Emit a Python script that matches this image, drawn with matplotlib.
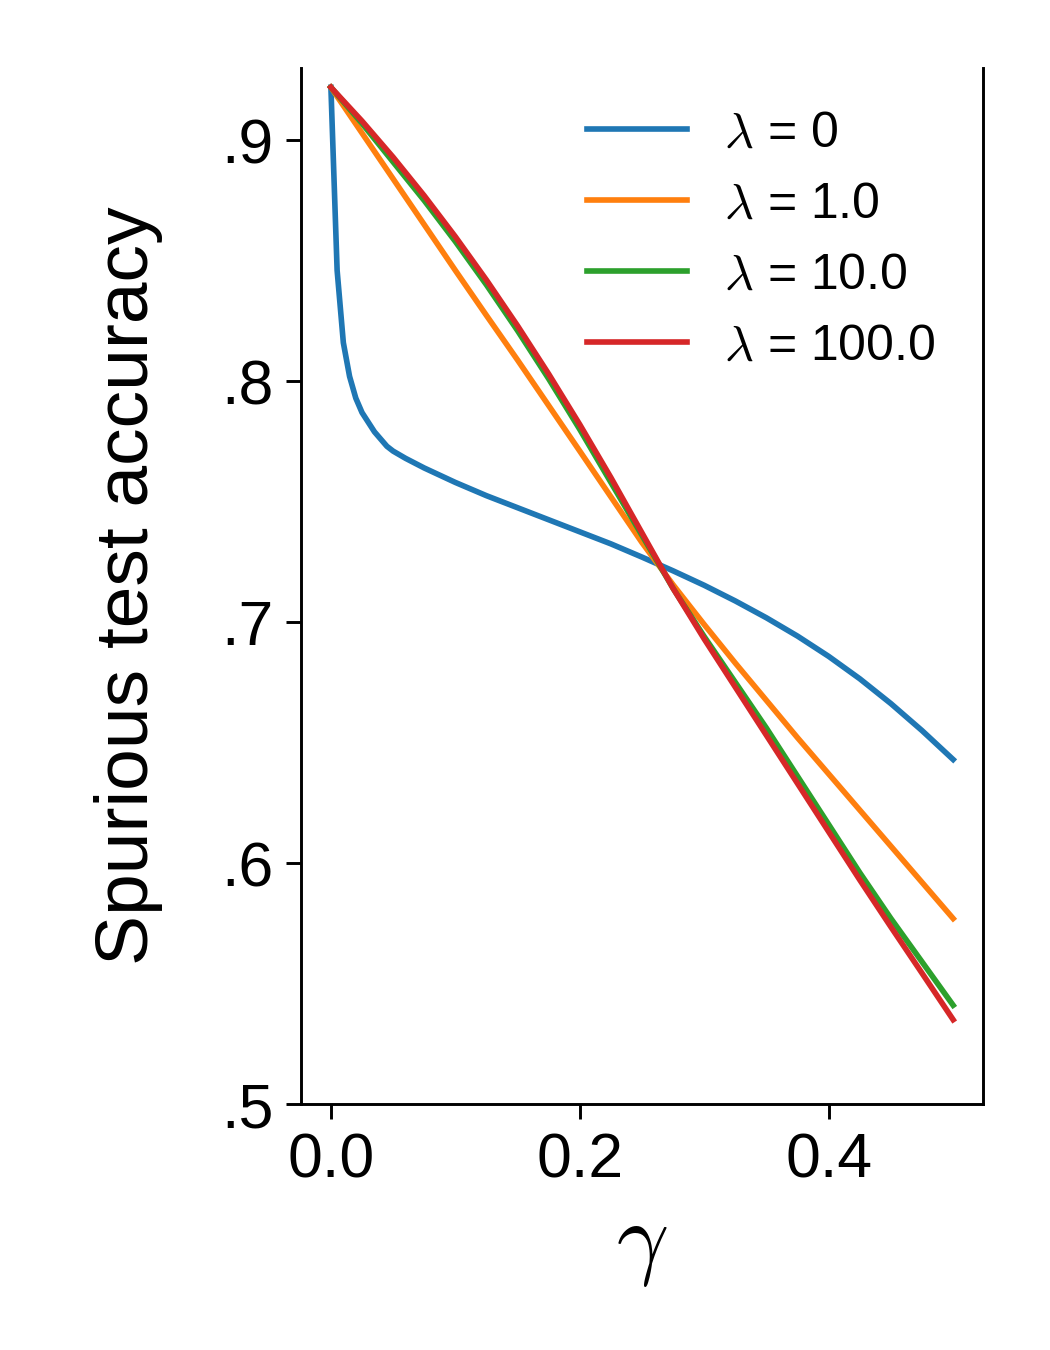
import numpy as np
import matplotlib
matplotlib.use('Agg')
import matplotlib.pyplot as plt
from matplotlib.ticker import FixedLocator, FixedFormatter

plt.rcParams['font.family'] = ['Liberation Sans', 'DejaVu Sans']
plt.rcParams['mathtext.fontset'] = 'cm'

# values
gam_lam0 = [0.0, 0.005, 0.01, 0.015, 0.02, 0.025, 0.03, 0.035, 0.04, 0.045, 0.05,
            0.06, 0.075, 0.1, 0.125, 0.15, 0.175, 0.2, 0.225, 0.25, 0.275, 0.3,
            0.325, 0.35, 0.375, 0.4, 0.425, 0.45, 0.475, 0.5]
acc_lam0 = [0.922, 0.846, 0.816, 0.802, 0.793, 0.787, 0.783, 0.779, 0.776, 0.773, 0.771,
            0.768, 0.764, 0.758, 0.7525, 0.7475, 0.7425, 0.7375, 0.7325, 0.727, 0.7213, 0.7153,
            0.7088, 0.7018, 0.6942, 0.6858, 0.6765, 0.6662, 0.655, 0.643]

gam = [0.0, 0.025, 0.05, 0.075, 0.1, 0.125, 0.15, 0.175, 0.2, 0.225, 0.25,
       0.275, 0.3, 0.325, 0.35, 0.375, 0.4, 0.425, 0.45, 0.475, 0.5]
acc_lam1 = [0.922, 0.903, 0.884, 0.865, 0.846, 0.8273, 0.8088, 0.7899, 0.771, 0.752, 0.733,
            0.7155, 0.699, 0.683, 0.6675, 0.652, 0.637, 0.622, 0.607, 0.592, 0.577]
acc_lam10 = [0.922, 0.907, 0.891, 0.875, 0.858, 0.840, 0.821, 0.801, 0.780, 0.758, 0.736,
             0.714, 0.694, 0.675, 0.656, 0.636, 0.616, 0.596, 0.577, 0.559, 0.541]
acc_lam100 = [0.922, 0.908, 0.893, 0.877, 0.860, 0.842, 0.823, 0.803, 0.782, 0.760, 0.737,
              0.714, 0.693, 0.673, 0.653, 0.633, 0.613, 0.593, 0.5735, 0.5543, 0.535]

labels = [r'$\lambda$ = 0', r'$\lambda$ = 1.0', r'$\lambda$ = 10.0', r'$\lambda$ = 100.0']
colors = ['#1f77b4', '#ff7f0e', '#2ca02c', '#d62728']

yticks = [0.5, 0.6, 0.7, 0.8, 0.9]
yticklabels = ['.5', '.6', '.7', '.8', '.9']
xticks = [0.0, 0.2, 0.4]
xticklabels = ['0.0', '0.2', '0.4']

fig = plt.figure(figsize=(3.5, 4.5), dpi=300)
ax = fig.add_axes([0.2867, 0.1822, 0.6495, 0.7674])

lw = 1.35
ax.plot(gam_lam0, acc_lam0, color=colors[0], lw=lw, label=labels[0])
ax.plot(gam, acc_lam1, color=colors[1], lw=lw, label=labels[1])
ax.plot(gam, acc_lam10, color=colors[2], lw=lw, label=labels[2])
ax.plot(gam, acc_lam100, color=colors[3], lw=lw, label=labels[3])

ax.set_xlim(-0.024, 0.524)
ax.set_ylim(0.5, 0.93)
ax.yaxis.set_major_locator(FixedLocator(yticks))
ax.yaxis.set_major_formatter(FixedFormatter(yticklabels))
ax.xaxis.set_major_locator(FixedLocator(xticks))
ax.xaxis.set_major_formatter(FixedFormatter(xticklabels))
ax.tick_params(labelsize=15, width=0.7, length=3.5, pad=3)

ax.spines['top'].set_visible(False)
for s in ['left', 'right', 'bottom']:
    ax.spines[s].set_linewidth(0.7)

ax.set_ylabel('Spurious test accuracy', fontsize=18, labelpad=14)
ax.set_xlabel(r'$\gamma$', fontsize=22, labelpad=3)

ax.legend(loc='upper right', frameon=False, fontsize=12, handlelength=2.0,
          handletextpad=0.75, labelspacing=0.5, borderaxespad=0,
          bbox_to_anchor=(0.96, 0.978))

fig.savefig('out.png', dpi=300)
